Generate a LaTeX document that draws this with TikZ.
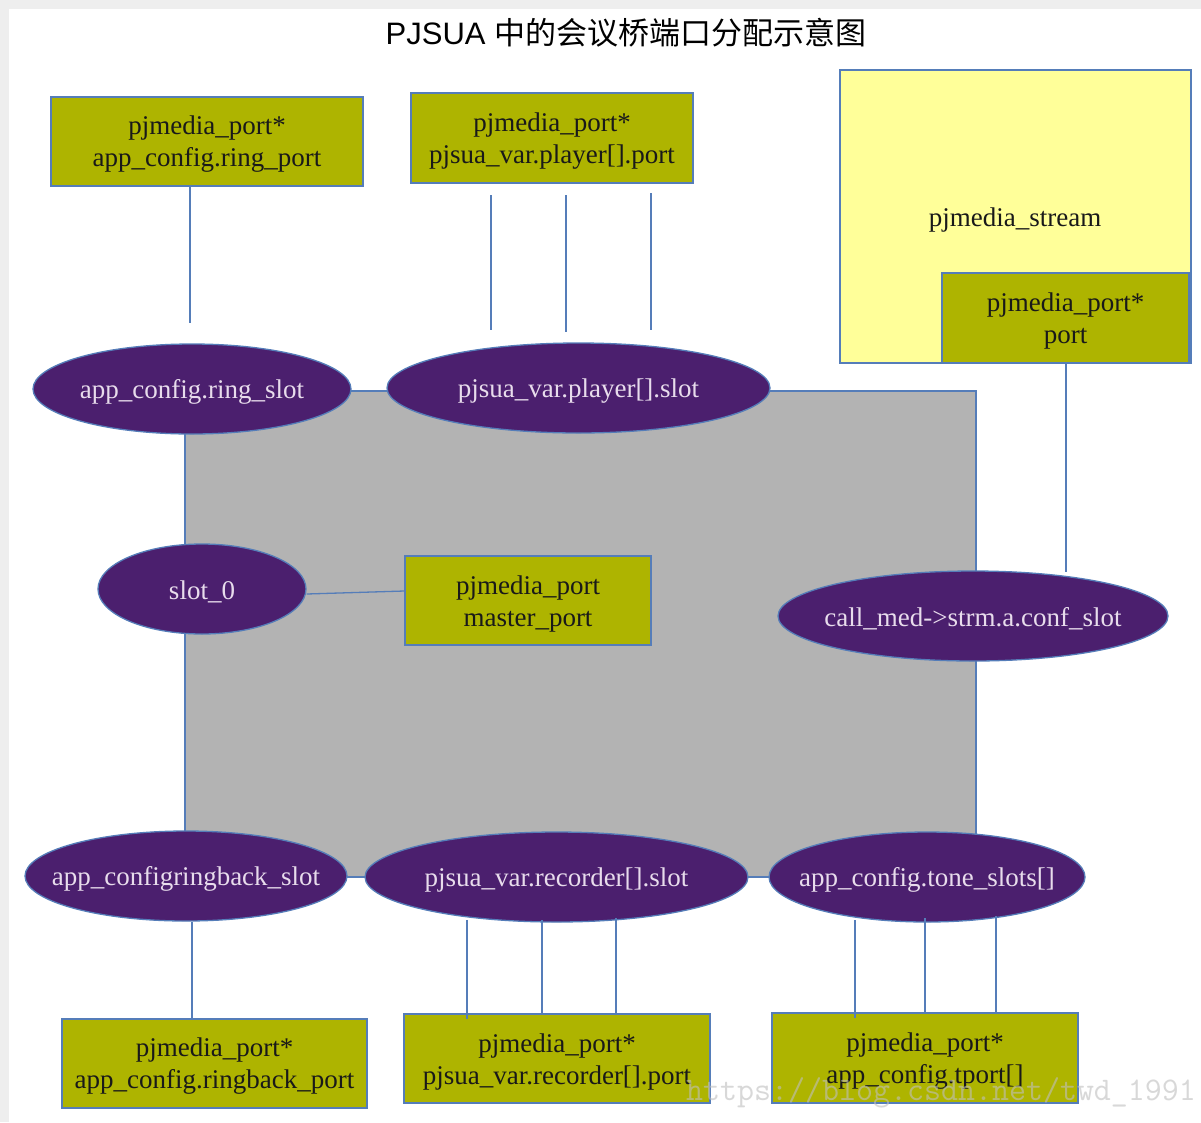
\documentclass[tikz,border=0pt]{standalone}
\usepackage{fontspec}
\setmainfont{Liberation Serif}
\newfontfamily\titlelat{Liberation Sans}
\newfontfamily\cjk{Noto Sans CJK SC}
\usetikzlibrary{shapes.geometric}
\definecolor{olivebox}{RGB}{174,180,0}
\definecolor{slotfill}{RGB}{75,31,110}
\definecolor{edgeblue}{RGB}{85,125,185}
\definecolor{bridgegray}{RGB}{179,179,179}
\definecolor{streamyellow}{RGB}{255,255,153}
\definecolor{slottext}{RGB}{232,220,236}
\definecolor{pagegray}{RGB}{238,238,238}
\tikzset{
  portbox/.style={draw=edgeblue, line width=1.3pt, fill=olivebox, rectangle, inner sep=0pt},
  slot/.style={draw=edgeblue, line width=1.3pt, fill=slotfill, ellipse, inner sep=0pt},
  boxtxt/.style={align=center, text=black!90, inner sep=0pt, yshift=-3pt, font=\fontsize{27pt}{32pt}\selectfont},
  slottxt/.style={text=slottext, inner sep=0pt, yshift=-3pt, font=\fontsize{27pt}{32pt}\selectfont},
  link/.style={draw=edgeblue, line width=1.3pt},
}
\begin{document}
\begin{tikzpicture}[x=1pt,y=-1pt]
\useasboundingbox (0,0) rectangle (1201,1122);
\fill[pagegray] (0,0) rectangle (1201,1122);
\fill[white] (9,9) rectangle (1201,1122);
% title
\node (title) at (626,33) {\fontsize{31pt}{36pt}\selectfont\titlelat PJSUA \cjk 中的会议桥端口分配示意图};
% conference bridge
\node[draw=edgeblue, line width=1.3pt, fill=bridgegray, rectangle, minimum width=791pt, minimum height=486pt, inner sep=0pt] (bridge) at (580.5,634) {};
% stream
\node[draw=edgeblue, line width=1.3pt, fill=streamyellow, rectangle, minimum width=351pt, minimum height=293pt, inner sep=0pt] (stream) at (1015.5,216.5) {};
\node[boxtxt] (streamlbl) at (1015,217) {pjmedia\_stream};
\node[portbox, minimum width=247pt, minimum height=90pt] (sport) at (1065.5,318) {};
\node[boxtxt] at (sport) {pjmedia\_port*\\port};
% top boxes
\node[portbox, minimum width=312pt, minimum height=89pt] (ringport) at (207,141.5) {};
\node[boxtxt] at (ringport) {pjmedia\_port*\\app\_config.ring\_port};
\node[portbox, minimum width=282pt, minimum height=90pt] (playport) at (552,138) {};
\node[boxtxt] at (playport) {pjmedia\_port*\\pjsua\_var.player[].port};
% slots
\node[slot, minimum width=318pt, minimum height=90pt] (ringslot) at (192,389) {};
\node[slottxt] at (ringslot) {app\_config.ring\_slot};
\node[slot, minimum width=383pt, minimum height=90pt] (playslot) at (578.5,388) {};
\node[slottxt] at (playslot) {pjsua\_var.player[].slot};
\node[slot, minimum width=208pt, minimum height=90pt] (slot0) at (202,589) {};
\node[slottxt] at (slot0) {slot\_0};
\node[portbox, minimum width=246pt, minimum height=89pt] (master) at (528,600.5) {};
\node[boxtxt] at (master) {pjmedia\_port\\master\_port};
\node[slot, minimum width=390pt, minimum height=90pt] (callslot) at (973,616) {};
\node[slottxt] at (callslot) {call\_med->strm.a.conf\_slot};
\node[slot, minimum width=322pt, minimum height=90pt] (rbslot) at (186,876) {};
\node[slottxt] at (rbslot) {app\_configringback\_slot};
\node[slot, minimum width=383pt, minimum height=90pt] (recslot) at (556.5,877) {};
\node[slottxt] at (recslot) {pjsua\_var.recorder[].slot};
\node[slot, minimum width=316pt, minimum height=90pt] (toneslot) at (927,877) {};
\node[slottxt] at (toneslot) {app\_config.tone\_slots[]};
% bottom boxes
\node[portbox, minimum width=305pt, minimum height=89pt] (rbport) at (214.5,1063.5) {};
\node[boxtxt] at (rbport) {pjmedia\_port*\\app\_config.ringback\_port};
\node[portbox, minimum width=306pt, minimum height=89pt] (recport) at (557,1058.5) {};
\node[boxtxt] at (recport) {pjmedia\_port*\\pjsua\_var.recorder[].port};
\node[portbox, minimum width=306pt, minimum height=90pt] (tport) at (925,1058) {};
\node[boxtxt] at (tport) {pjmedia\_port*\\app\_config.tport[]};
% connectors
\coordinate (r1) at (190,323);
\draw[link] (ringport.south -| r1) -- (r1);
\coordinate (p1a) at (491,195); \coordinate (p1b) at (491,330);
\coordinate (p2a) at (566,195); \coordinate (p2b) at (566,332);
\coordinate (p3a) at (651,193); \coordinate (p3b) at (651,330);
\draw[link] (p1a) -- (p1b);
\draw[link] (p2a) -- (p2b);
\draw[link] (p3a) -- (p3b);
\coordinate (s1) at (1066,572);
\draw[link] (sport.south -| s1) -- (s1);
\draw[link] ([yshift=-5pt]slot0.east) -- ([yshift=9.5pt]master.west);
\coordinate (b1) at (192,922);
\draw[link] (b1) -- (rbport.north -| b1);
\coordinate (c1) at (467,920); \coordinate (c2) at (542,920); \coordinate (c3) at (616,918);
\draw[link] (c1) -- ([yshift=-6pt]recport.north -| c1);
\draw[link] (c2) -- (recport.north -| c2);
\draw[link] (c3) -- (recport.north -| c3);
\coordinate (t1) at (855,920); \coordinate (t2) at (925,918); \coordinate (t3) at (996,916);
\draw[link] (t1) -- ([yshift=-6pt]tport.north -| t1);
\draw[link] (t2) -- (tport.north -| t2);
\draw[link] (t3) -- (tport.north -| t3);
% watermark
\node[text=black!25, opacity=0.6, font=\fontsize{33pt}{36pt}\selectfont\ttfamily] (wm) at (941,1093) {https://blog.csdn.net/twd\_1991};
\end{tikzpicture}
\end{document}
